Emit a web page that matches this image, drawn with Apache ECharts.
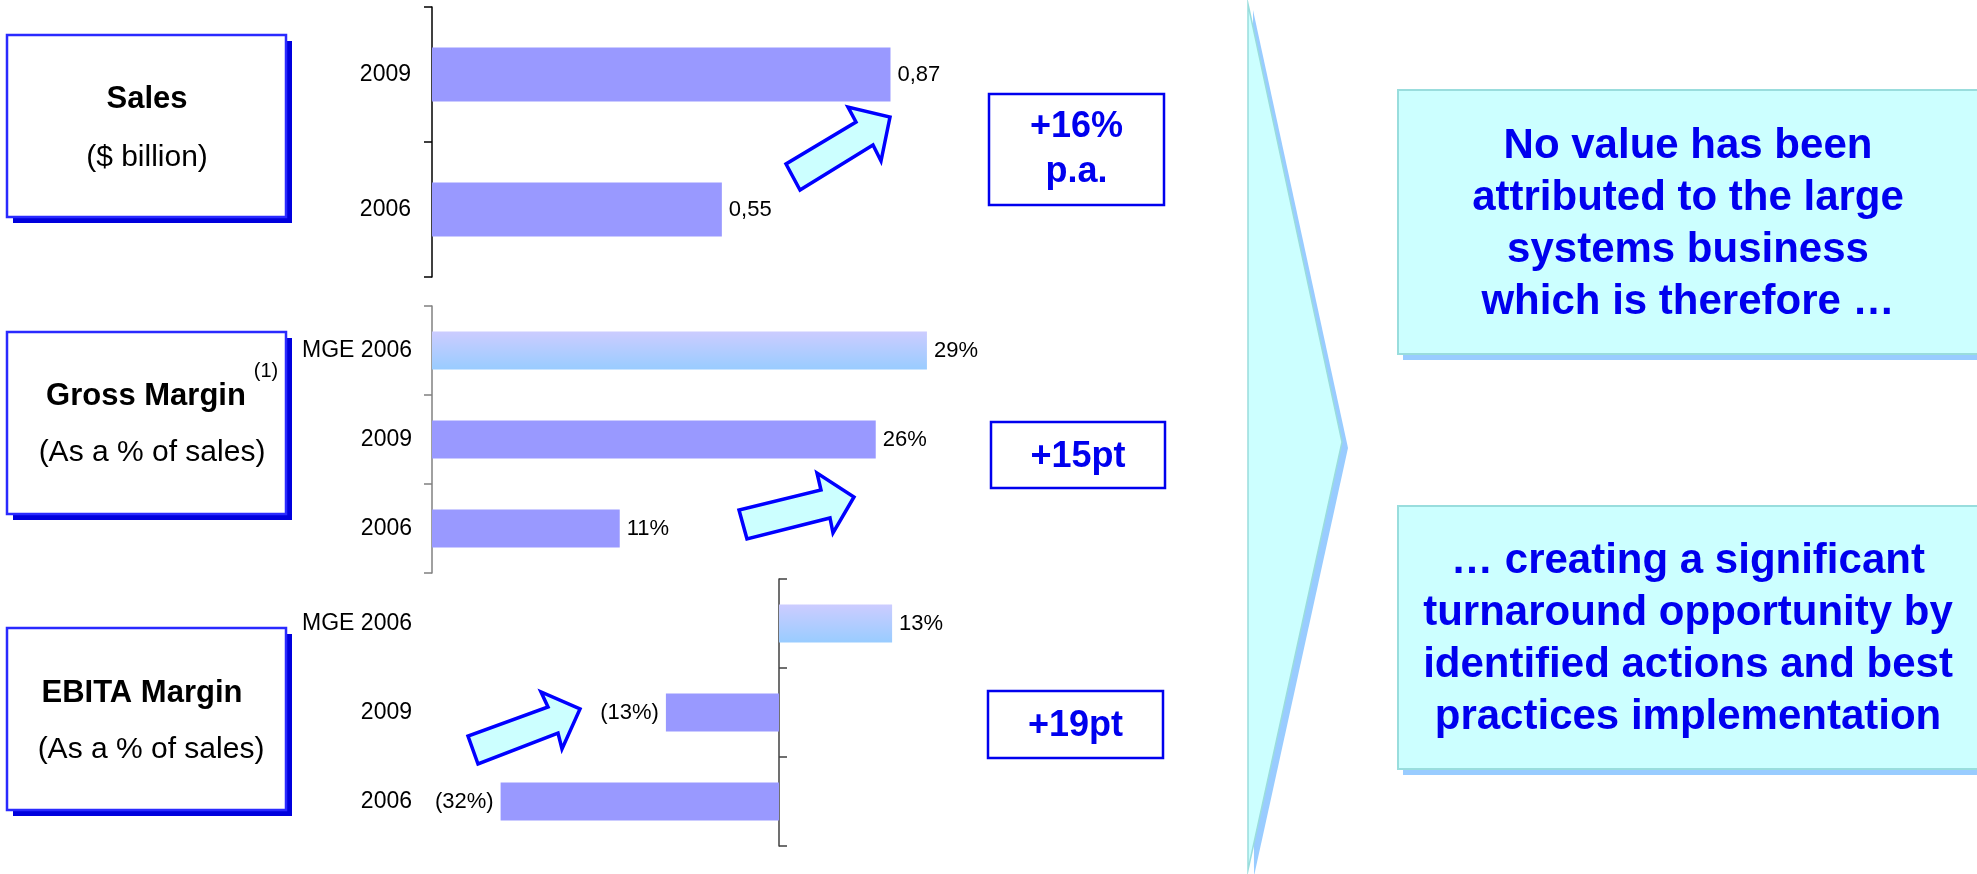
<!DOCTYPE html>
<html>
<head>
<meta charset="utf-8">
<script src="https://cdn.jsdelivr.net/npm/echarts@6/dist/echarts.min.js"></script>
<style>
  html, body { margin: 0; padding: 0; background: #fff; }
  #chart { width: 1977px; height: 874px; }
</style>
</head>
<body>
<div id="chart"></div>
<script>
// Sales ($ billion)
const salesCats = ['2006', '2009'];
const salesVals = [0.55, 0.87];
// Gross margin (% of sales)
const grossCats = ['2006', '2009', 'MGE 2006'];
const grossVals = [11, 26, 29];
// EBITA margin (% of sales)
const ebitaCats = ['2006', '2009', 'MGE 2006'];
const ebitaVals = [-32, -13, 13];
// Panel titles and change call-outs
const panelTitles = ['Sales', 'Gross Margin', 'EBITA Margin'];
const panelSubtitles = ['($ billion)', '(As a % of sales)', '(As a % of sales)'];
const changeLabels = ['+16%\np.a.', '+15pt', '+19pt'];
const messages = [
  'No value has been\nattributed to the large\nsystems business\nwhich is therefore \u2026',
  '\u2026 creating a significant\nturnaround opportunity by\nidentified actions and best\npractices implementation'
];

const FONT = '"Liberation Sans", Arial, Helvetica, sans-serif';
const BAR = '#9999ff';
const BLUE = '#0000ee';

function mgeGradient() {
  return new echarts.graphic.LinearGradient(0, 0, 0, 1, [
    { offset: 0, color: '#ccccff' },
    { offset: 1, color: '#99ccff' }
  ]);
}
function barData(cats, vals) {
  return vals.map((v, i) => ({
    value: v,
    itemStyle: { color: cats[i].indexOf('MGE') === 0 ? mgeGradient() : BAR }
  }));
}
const labelStyle = { fontFamily: FONT, fontSize: 22, color: '#000' };
function catAxis(gridIndex, cats, lineColor, margin) {
  return {
    type: 'category', gridIndex: gridIndex, data: cats,
    axisLine: { show: true, lineStyle: { color: lineColor, width: 1.5 } },
    axisTick: { show: true, length: 8, lineStyle: { color: lineColor, width: 1.5 } },
    axisLabel: { fontFamily: FONT, fontSize: 23, color: '#000', margin: margin }
  };
}

const chart = echarts.init(document.getElementById('chart'), null, { renderer: 'canvas' });

// Decorations: title boxes, call-out boxes, arrows, chevron, message boxes
const graphics = [];
const titleBoxes = [
  { y: 35, titleY: 99, subY: 158, tx: 147, sx: 147 },
  { y: 332, titleY: 396, subY: 453, tx: 146, sx: 152 },
  { y: 628, titleY: 693, subY: 750, tx: 142, sx: 151 }
];
titleBoxes.forEach((b, i) => {
  graphics.push({ type: 'rect', z: 1, shape: { x: 13, y: b.y + 6, width: 279, height: 182 }, style: { fill: '#0000dd' } });
  graphics.push({ type: 'rect', z: 2, shape: { x: 7, y: b.y, width: 279, height: 182 }, style: { fill: '#fff', stroke: '#2a2aff', lineWidth: 2.5 } });
  graphics.push({ type: 'text', z: 3, x: b.tx, y: b.titleY, style: { text: panelTitles[i], font: 'bold 31px ' + FONT, fill: '#000', align: 'center', verticalAlign: 'middle' } });
  graphics.push({ type: 'text', z: 3, x: b.sx, y: b.subY, style: { text: panelSubtitles[i], font: '30px ' + FONT, fill: '#000', align: 'center', verticalAlign: 'middle' } });
});
graphics.push({ type: 'text', z: 3, x: 266, y: 371, style: { text: '(1)', font: '20px ' + FONT, fill: '#000', align: 'center', verticalAlign: 'middle' } });

const changeBoxes = [
  { x: 989, y: 94, w: 175, h: 111, cy: 150, lh: 45 },
  { x: 991, y: 422, w: 174, h: 66, cy: 457, lh: 45 },
  { x: 988, y: 691, w: 175, h: 67, cy: 726, lh: 45 }
];
changeBoxes.forEach((b, i) => {
  graphics.push({ type: 'rect', z: 2, shape: { x: b.x, y: b.y, width: b.w, height: b.h }, style: { fill: '#fff', stroke: BLUE, lineWidth: 2.5 } });
  graphics.push({ type: 'text', z: 3, x: b.x + b.w / 2, y: b.cy, style: { text: changeLabels[i], font: 'bold 36px ' + FONT, fill: BLUE, align: 'center', verticalAlign: 'middle', lineHeight: b.lh } });
});

const arrows = [
  [[800, 190], [786, 164], [856, 122], [848, 107], [890, 117], [881, 161], [873, 145]],
  [[747, 539], [739, 510], [821, 490], [817, 473], [854, 497], [833, 533], [830, 518]],
  [[478, 764], [468, 736], [548, 707], [541, 692], [580, 709], [562, 749], [558, 733]]
];
arrows.forEach(pts => {
  graphics.push({ type: 'polygon', z: 4, shape: { points: pts }, style: { fill: '#ccffff', stroke: '#0000ff', lineWidth: 3.5, lineJoin: 'miter' } });
});

// Chevron with its shadow
graphics.push({ type: 'polygon', z: 1, shape: { points: [[1253, 10], [1348, 448], [1254, 876]] }, style: { fill: '#99ccff' } });
graphics.push({ type: 'polygon', z: 2, shape: { points: [[1248, 4], [1342, 442], [1248, 870]] }, style: { fill: '#ccffff', stroke: '#99dddd', lineWidth: 1.5 } });

// Message boxes
const msgBoxes = [{ y: 90, h: 264 }, { y: 506, h: 263 }];
msgBoxes.forEach((b, i) => {
  graphics.push({ type: 'rect', z: 1, shape: { x: 1403, y: b.y + 6, width: 600, height: b.h }, style: { fill: '#99ccff' } });
  graphics.push({ type: 'rect', z: 2, shape: { x: 1398, y: b.y, width: 600, height: b.h }, style: { fill: '#ccffff', stroke: '#99dddd', lineWidth: 2 } });
  graphics.push({ type: 'text', z: 3, x: 1688, y: b.y + b.h / 2 + 2, style: { text: messages[i], font: 'bold 42px ' + FONT, fill: BLUE, align: 'center', verticalAlign: 'middle', lineHeight: 52 } });
});

const option = {
  backgroundColor: '#fff',
  animation: false,
  grid: [
    { left: 432, top: 7, width: 527, height: 270 },
    { left: 432, top: 306, width: 512, height: 267 },
    { left: 431, top: 579, width: 522, height: 267 }
  ],
  xAxis: [
    { type: 'value', gridIndex: 0, min: 0, max: 1, show: false },
    { type: 'value', gridIndex: 1, min: 0, max: 30, show: false },
    { type: 'value', gridIndex: 2, min: -40, max: 20, show: false }
  ],
  yAxis: [
    catAxis(0, salesCats, '#000', 21),
    catAxis(1, grossCats, '#808080', 20),
    // EBITA: labels stay at the left edge of the panel
    {
      type: 'category', gridIndex: 2, data: ebitaCats,
      axisLine: { show: false, onZero: false }, axisTick: { show: false },
      axisLabel: { fontFamily: FONT, fontSize: 23, color: '#000', margin: 19 }
    },
    // EBITA: axis line sits on the zero line
    {
      type: 'category', gridIndex: 2, data: ebitaCats,
      axisLine: { show: true, onZero: true, lineStyle: { color: '#404040', width: 1.5 } },
      axisTick: { show: true, length: 8, lineStyle: { color: '#404040', width: 1.5 } },
      axisLabel: { show: false }
    }
  ],
  series: [
    {
      type: 'bar', xAxisIndex: 0, yAxisIndex: 0, barWidth: 54,
      data: barData(salesCats, salesVals),
      label: { show: true, position: 'right', distance: 7, ...labelStyle,
        formatter: p => p.value.toFixed(2).replace('.', ',') }
    },
    {
      type: 'bar', xAxisIndex: 1, yAxisIndex: 1, barWidth: 38,
      data: barData(grossCats, grossVals),
      label: { show: true, position: 'right', distance: 7, ...labelStyle,
        formatter: p => p.value + '%' }
    },
    {
      type: 'bar', xAxisIndex: 2, yAxisIndex: 3, barWidth: 38,
      data: barData(ebitaCats, ebitaVals).map(d => Object.assign(d, {
        label: { position: d.value < 0 ? 'left' : 'right' }
      })),
      label: { show: true, distance: 7, ...labelStyle,
        formatter: p => p.value < 0 ? '(' + Math.abs(p.value) + '%)' : p.value + '%' }
    }
  ],
  graphic: graphics
};
chart.setOption(option);
</script>
</body>
</html>
